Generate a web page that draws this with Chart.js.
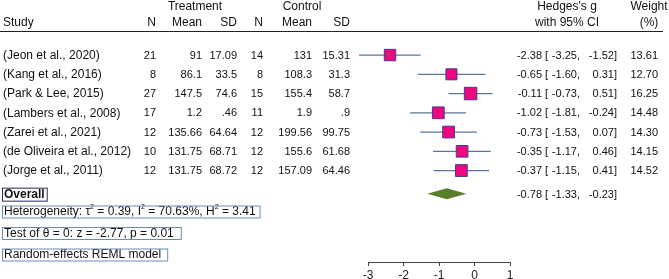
<!DOCTYPE html>
<html>
<head>
<meta charset="utf-8">
<script src="https://cdn.jsdelivr.net/npm/chart.js@4/dist/chart.umd.min.js"></script>
<style>
html,body{margin:0;padding:0;background:#fff;}
canvas{display:block;}
</style>
</head>
<body>
<canvas id="c" width="669" height="279"></canvas>
<script>
// ---- data ----
const studies = ["(Jeon et al., 2020)","(Kang et al., 2016)","(Park & Lee, 2015)","(Lambers et al., 2008)","(Zarei et al., 2021)","(de Oliveira et al., 2012)","(Jorge et al., 2011)"];
const treatN = [21, 8, 27, 17, 12, 10, 12];
const treatMean = [91, 86.1, 147.5, 1.2, 135.66, 131.75, 131.75];
const treatSD = [17.09, 33.5, 74.6, 0.46, 64.64, 68.71, 68.72];
const ctrlN = [14, 8, 15, 11, 12, 12, 12];
const ctrlMean = [131, 108.3, 155.4, 1.9, 199.56, 155.6, 157.09];
const ctrlSD = [15.31, 31.3, 58.7, 0.9, 99.75, 61.68, 64.46];
const hedgesG = [-2.38, -0.65, -0.11, -1.02, -0.73, -0.35, -0.37];
const ciLow = [-3.25, -1.60, -0.73, -1.81, -1.53, -1.17, -1.15];
const ciHigh = [-1.52, 0.31, 0.51, -0.24, 0.07, 0.46, 0.41];
const weights = [13.61, 12.70, 16.25, 14.48, 14.30, 14.15, 14.52];
const overallG = -0.78, overallLow = -1.33, overallHigh = -0.23;
const xTicks = [-3, -2, -1, 0, 1];
const rows = studies.map((s, i) => i + 1);
const overallRow = 8.2;

// ---- style ----
const FONT = '"Liberation Sans", Arial, sans-serif';
const TXT = '#111';
const fmt = v => String(v).replace(/^0\./, '.');
const f2 = v => v.toFixed(2);

const datasets = [{
  label: 'studies',
  data: hedgesG.map((g, i) => ({x: g, y: rows[i]})),
  pointStyle: 'rect',
  pointRadius: ctx => 2.19 * Math.sqrt(weights[ctx.dataIndex] || 14),
  backgroundColor: '#f0067f',
  borderColor: '#3d3d8f',
  borderWidth: 1,
  showLine: false,
  clip: false
}];
hedgesG.forEach((g, i) => {
  datasets.push({
    label: 'ci' + i,
    data: [{x: ciLow[i], y: rows[i]}, {x: ciHigh[i], y: rows[i]}],
    showLine: true,
    pointRadius: 0,
    borderColor: '#5a779b',
    borderWidth: 1.3,
    clip: false
  });
});

const textPlugin = {
  id: 'forestText',
  afterDatasetsDraw(chart) {
    const ctx = chart.ctx;
    const xs = chart.scales.x, ys = chart.scales.y;
    const yo = ys.getPixelForValue(overallRow);
    ctx.save();
    ctx.beginPath();
    ctx.moveTo(xs.getPixelForValue(overallLow), yo);
    ctx.lineTo(xs.getPixelForValue(overallG), yo - 5.5);
    ctx.lineTo(xs.getPixelForValue(overallHigh), yo);
    ctx.lineTo(xs.getPixelForValue(overallG), yo + 5.5);
    ctx.closePath();
    ctx.fillStyle = '#5b7e2b';
    ctx.fill();
    ctx.restore();
  },
  afterDraw(chart) {
    const ctx = chart.ctx;
    const ys = chart.scales.y;
    ctx.save();
    ctx.fillStyle = TXT;
    ctx.textBaseline = 'middle';
    const TF = '12px ' + FONT, NF = '11px ' + FONT;
    const t = (s, x, y, align, font) => { ctx.font = font || TF; ctx.textAlign = align || 'left'; ctx.fillText(s, x, y); };
    // headers
    t('Treatment', 195, 7, 'center');
    t('Control', 302, 7, 'center');
    t('Hedges\'s g', 567, 7, 'center');
    t('Weight', 649, 7, 'center');
    t('Study', 3, 23);
    t('N', 156, 23, 'right');
    t('Mean', 202, 23, 'right');
    t('SD', 237, 23, 'right');
    t('N', 263, 23, 'right');
    t('Mean', 312, 23, 'right');
    t('SD', 350, 23, 'right');
    t('with 95% CI', 567, 23, 'center');
    t('(%)', 649, 23, 'center');
    ctx.strokeStyle = '#222';
    ctx.lineWidth = 1;
    ctx.beginPath(); ctx.moveTo(0, 31.5); ctx.lineTo(663, 31.5); ctx.stroke();
    // rows
    studies.forEach((s, i) => {
      const y = ys.getPixelForValue(rows[i]) + 0.5;
      t(s, 3, y);
      t(fmt(treatN[i]), 156, y, 'right', NF);
      t(fmt(treatMean[i]), 202, y, 'right', NF);
      t(fmt(treatSD[i]), 237, y, 'right', NF);
      t(fmt(ctrlN[i]), 263, y, 'right', NF);
      t(fmt(ctrlMean[i]), 312, y, 'right', NF);
      t(fmt(ctrlSD[i]), 350, y, 'right', NF);
      t(f2(hedgesG[i]), 542, y, 'right', NF);
      t('[', 545, y, 'left', NF);
      t(f2(ciLow[i]) + ',', 580, y, 'right', NF);
      t(f2(ciHigh[i]) + ']', 617, y, 'right', NF);
      t(f2(weights[i]), 658, y, 'right', NF);
    });
    // overall
    const yo = ys.getPixelForValue(overallRow) + 1;
    t(f2(overallG), 542, yo, 'right', NF);
    t('[', 545, yo, 'left', NF);
    t(f2(overallLow) + ',', 580, yo, 'right', NF);
    t(f2(overallHigh) + ']', 617, yo, 'right', NF);
    t('Overall', 4, yo, 'left', 'bold 12px ' + FONT);
    let w = ctx.measureText('Overall').width;
    ctx.strokeStyle = '#2d2d4d';
    ctx.strokeRect(2.5, yo - 6.5, w + 4, 13);
    // footnotes with superscripts
    const rich = (parts, y, boxW) => {
      let x = 4;
      ctx.textAlign = 'left';
      parts.forEach(p => {
        ctx.font = (p.sup ? '7px ' : '12px ') + FONT;
        ctx.fillText(p.s, x, p.sup ? y - 4.5 : y);
        x += ctx.measureText(p.s).width;
      });
      ctx.strokeStyle = '#6d8db6';
      ctx.strokeRect(2.5, y - 6, (x - 2) + boxW, 12);
    };
    rich([{s:'Heterogeneity: \u03c4'},{s:'2',sup:1},{s:' = 0.39, I'},{s:'2',sup:1},{s:' = 70.63%, H'},{s:'2',sup:1},{s:' = 3.41'}], 212, 4);
    rich([{s:'Test of \u03b8 = 0: z = -2.77, p = 0.01'}], 233.5, 7);
    rich([{s:'Random-effects REML model'}], 255, 6);
    ctx.restore();
  }
};

new Chart(document.getElementById('c'), {
  type: 'scatter',
  data: { datasets },
  options: {
    responsive: false,
    animation: false,
    devicePixelRatio: 1,
    layout: { padding: { left: 368, right: 159, top: 0, bottom: 0 } },
    plugins: { legend: { display: false }, tooltip: { enabled: false } },
    scales: {
      x: {
        type: 'linear', min: xTicks[0], max: xTicks[xTicks.length - 1],
        afterBuildTicks: s => { s.ticks = xTicks.map(v => ({value: v})); },
        ticks: { font: { family: FONT, size: 12 }, color: '#222', padding: 2, maxRotation: 0 },
        grid: { drawOnChartArea: false, drawTicks: true, tickLength: 4, color: '#444' },
        border: { display: true, color: '#444' },
        afterFit: s => { s.height = 17; }
      },
      y: {
        type: 'linear', display: false, reverse: true, min: -1.35, max: 11.75
      }
    }
  },
  plugins: [textPlugin]
});
</script>
</body>
</html>
